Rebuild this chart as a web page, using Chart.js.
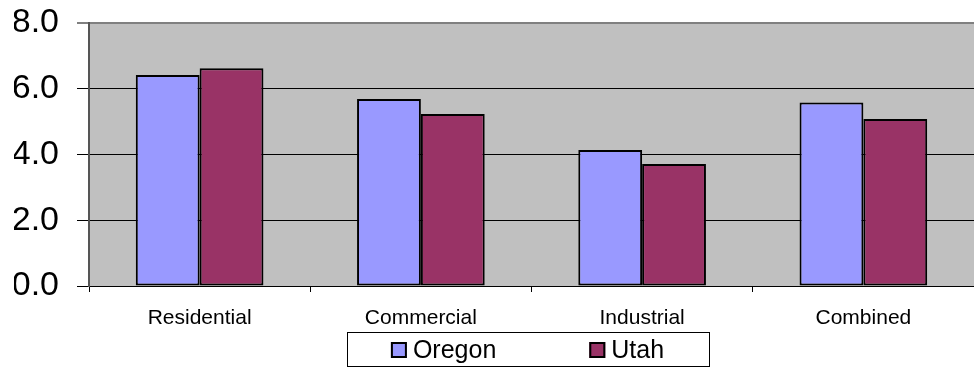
<!DOCTYPE html>
<html lang="en">

<head>
    <meta charset="UTF-8">
    <title>Oregon vs Utah</title>
    <script src="https://cdn.jsdelivr.net/npm/chart.js"></script>
    <style>
        body { margin: 0; background: #fff; }
        #wrap { width: 974px; height: 367px; }
    </style>
</head>

<body>
    <div id="wrap">
        <canvas id="barChart"></canvas>
    </div>

    <script>
        var categories = ['Residential', 'Commercial', 'Industrial', 'Combined'];
        var oregon = [6.42, 5.69, 4.14, 5.58];
        var utah = [6.62, 5.23, 3.71, 5.08];
        var yTicks = [0, 2, 4, 6, 8];

        var fontFamily = '"Liberation Sans", Arial, sans-serif';

        // gray plot background
        var plotBg = {
            id: 'plotBg',
            beforeDraw: function (chart) {
                var a = chart.chartArea, ctx = chart.ctx;
                ctx.save();
                ctx.fillStyle = '#c0c0c0';
                ctx.fillRect(a.left, a.top, a.right - a.left, a.bottom - a.top);
                ctx.restore();
            }
        };

        // boxed legend under the axis labels
        var boxLegend = {
            id: 'boxLegend',
            afterDraw: function (chart) {
                var ctx = chart.ctx, a = chart.chartArea;
                var top = chart.scales.x.bottom;
                var h = chart.height - top - 1;
                var w = 362;
                var cx = (a.left + a.right) / 2 - 4;
                var left = cx - w / 2;
                ctx.save();
                ctx.strokeStyle = '#000';
                ctx.lineWidth = 1;
                ctx.strokeRect(Math.round(left) + 0.5, Math.round(top) + 0.5, w, h);

                ctx.font = '25px ' + fontFamily;
                ctx.textBaseline = 'middle';
                var sq = 16, gapTxt = 6, gapItem = 93;
                var items = chart.data.datasets.map(function (ds) {
                    return { label: ds.label, color: ds.backgroundColor, w: sq + gapTxt + ctx.measureText(ds.label).width };
                });
                var total = items.reduce(function (s, it) { return s + it.w; }, 0) + gapItem * (items.length - 1);
                var x = cx - total / 2;
                var my = top + h / 2 + 1;
                items.forEach(function (it) {
                    ctx.fillStyle = it.color;
                    ctx.fillRect(x, my - sq / 2, sq, sq);
                    ctx.lineWidth = 2;
                    ctx.strokeStyle = '#000';
                    ctx.strokeRect(x + 1, my - sq / 2 + 1, sq - 2, sq - 2);
                    ctx.fillStyle = '#000';
                    ctx.fillText(it.label, x + sq + gapTxt, my + 1);
                    x += it.w + gapItem;
                });
                ctx.restore();
            }
        };

        var barChart = new Chart(document.getElementById('barChart').getContext('2d'), {
            type: 'bar',
            data: {
                labels: categories,
                datasets: [{
                    label: 'Oregon',
                    data: oregon,
                    backgroundColor: '#9999ff',
                    borderColor: '#000',
                    borderWidth: 2,
                    borderSkipped: false
                }, {
                    label: 'Utah',
                    data: utah,
                    backgroundColor: '#993366',
                    borderColor: '#000',
                    borderWidth: 2,
                    borderSkipped: false
                }]
            },
            options: {
                responsive: true,
                maintainAspectRatio: false,
                animation: false,
                layout: {
                    padding: { left: 14, right: 0, top: 23, bottom: 35 }
                },
                datasets: {
                    bar: { categoryPercentage: 0.577, barPercentage: 1.0 }
                },
                plugins: {
                    legend: { display: false },
                    tooltip: { enabled: false }
                },
                scales: {
                    x: {
                        afterFit: function (axis) { axis.height = 46; },
                        grid: {
                            offset: true,
                            drawOnChartArea: false,
                            drawTicks: true,
                            tickLength: 6,
                            color: '#000'
                        },
                        border: { color: '#000', width: 1 },
                        ticks: {
                            color: '#000',
                            padding: 14,
                            font: { family: fontFamily, size: 21 }
                        }
                    },
                    y: {
                        min: 0,
                        max: 8,
                        afterFit: function (axis) {
                            axis.width = 75;
                            axis.paddingTop = 0;
                            axis.paddingBottom = 0;
                        },
                        afterBuildTicks: function (axis) {
                            axis.ticks = yTicks.map(function (v) { return { value: v }; });
                        },
                        grid: {
                            tickLength: 12,
                            color: function (c) { return c.tick && c.tick.value === 8 ? '#808080' : '#000'; },
                            lineWidth: function (c) { return c.tick && c.tick.value === 8 ? 2 : 1; }
                        },
                        border: { color: '#555', width: 2 },
                        ticks: {
                            color: '#000',
                            padding: 18,
                            font: { family: fontFamily, size: 34 },
                            callback: function (v) { return Number(v).toFixed(1); }
                        }
                    }
                }
            },
            plugins: [plotBg, boxLegend]
        });
    </script>
</body>

</html>
